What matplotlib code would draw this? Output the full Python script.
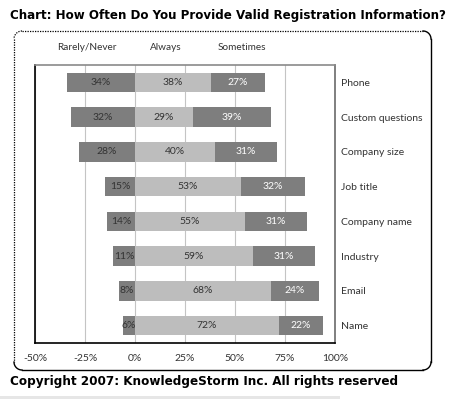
import numpy as np
import matplotlib
matplotlib.use("Agg")
import matplotlib.pyplot as plt
from matplotlib.lines import Line2D
from matplotlib.patches import Rectangle

categories = ["Phone", "Custom questions", "Company size", "Job title",
              "Company name", "Industry", "Email", "Name"]
rarely = [34, 32, 28, 15, 14, 11, 8, 6]
always = [38, 29, 40, 53, 55, 59, 68, 72]
sometimes = [27, 39, 31, 32, 31, 31, 24, 22]
x_ticks = [-50, -25, 0, 25, 50, 75, 100]
series_names = ["Rarely/Never", "Always", "Sometimes"]

W, H = 460, 399
fig = plt.figure(figsize=(W / 100, H / 100), dpi=100)
plt.rcParams['font.family'] = ['Lato', 'DejaVu Sans']

def fx(px):
    return px / W

def fy(py):
    return 1 - py / H

ax = fig.add_axes([fx(35), fy(343), fx(335) - fx(35), fy(65) - fy(343)])

dark = '#7e7e7e'
light = '#bdbdbd'
txt = '#333333'
y = np.arange(len(categories))
h = 0.56
rarely_neg = -np.array(rarely)
ax.barh(y, rarely_neg, height=h, color=dark, zorder=3)
ax.barh(y, always, height=h, color=light, zorder=3)
ax.barh(y, sometimes, left=always, height=h, color=dark, zorder=3)

for i in range(len(categories)):
    ax.text(rarely_neg[i] / 2, y[i], f"{rarely[i]}%", ha='center', va='center',
            fontsize=7.5, color=txt, zorder=4)
    ax.text(always[i] / 2, y[i], f"{always[i]}%", ha='center', va='center',
            fontsize=7.5, color=txt, zorder=4)
    ax.text(always[i] + sometimes[i] / 2, y[i], f"{sometimes[i]}%", ha='center',
            va='center', fontsize=7.5, color='white', zorder=4)

ax.set_xlim(-50, 100)
ax.set_ylim(len(categories) - 0.5, -0.5)
ax.set_xticks(x_ticks)
ax.set_xticklabels([f"{t}%" for t in x_ticks])
ax.set_yticks(y)
ax.set_yticklabels(categories)
ax.yaxis.tick_right()
ax.tick_params(axis='y', length=0, pad=4, labelsize=7.5, labelcolor=txt)
ax.tick_params(axis='x', length=0, pad=8, labelsize=7.5, labelcolor=txt)
ax.grid(axis='x', color='#c4c4c4', lw=0.8, zorder=0)
ax.set_axisbelow(True)
ax.spines['left'].set_color('black')
ax.spines['bottom'].set_color('black')
ax.spines['top'].set_color('#8a8a8a')
ax.spines['right'].set_color('#6a6a6a')
for s in ax.spines.values():
    s.set_linewidth(1.2)

# header labels above the plot
for name, px in zip(series_names, [87, 166, 242]):
    fig.text(fx(px), fy(47), name, ha='center', va='center', fontsize=7.2, color=txt)

# rounded outer frame: dotted top/left, solid elsewhere
x0, x1, y0, y1, r = 14, 431, 31, 370, 8

def arc(cx, cy, a0, a1):
    t = np.radians(np.linspace(a0, a1, 20))
    return fx(cx + r * np.cos(t)), fy(cy - r * np.sin(t))

dotted = dict(color='black', lw=0.9, ls=(0, (1, 1)), transform=fig.transFigure)
solid = dict(color='black', lw=1.0, transform=fig.transFigure)
fig.add_artist(Line2D([fx(x0 + r), fx(x1 - r)], [fy(y0), fy(y0)], **dotted))
fig.add_artist(Line2D([fx(x0), fx(x0)], [fy(y0 + r), fy(y1 - r)], **dotted))
ax_, ay_ = arc(x0 + r, y0 + r, 90, 180)
fig.add_artist(Line2D(ax_, ay_, **dotted))
ax_, ay_ = arc(x1 - r, y0 + r, 0, 90)
fig.add_artist(Line2D(ax_, ay_, **solid))
fig.add_artist(Line2D([fx(x1), fx(x1)], [fy(y0 + r), fy(y1 - r)], **solid))
ax_, ay_ = arc(x1 - r, y1 - r, -90, 0)
fig.add_artist(Line2D(ax_, ay_, **solid))
fig.add_artist(Line2D([fx(x0 + r), fx(x1 - r)], [fy(y1), fy(y1)], **solid))
ax_, ay_ = arc(x0 + r, y1 - r, 180, 270)
fig.add_artist(Line2D(ax_, ay_, **solid))

fig.text(fx(10), fy(15), "Chart: How Often Do You Provide Valid Registration Information?",
         ha='left', va='center', fontsize=8.6, fontweight='bold', family='DejaVu Sans')
fig.text(fx(10), fy(381), "Copyright 2007: KnowledgeStorm Inc. All rights reserved",
         ha='left', va='center', fontsize=8.65, fontweight='bold', family='DejaVu Sans')

fig.add_artist(Rectangle((0, 0), fx(340), 3 / H, transform=fig.transFigure,
                         color='#e6e6e6', lw=0))

fig.savefig('out.png', dpi=100)
